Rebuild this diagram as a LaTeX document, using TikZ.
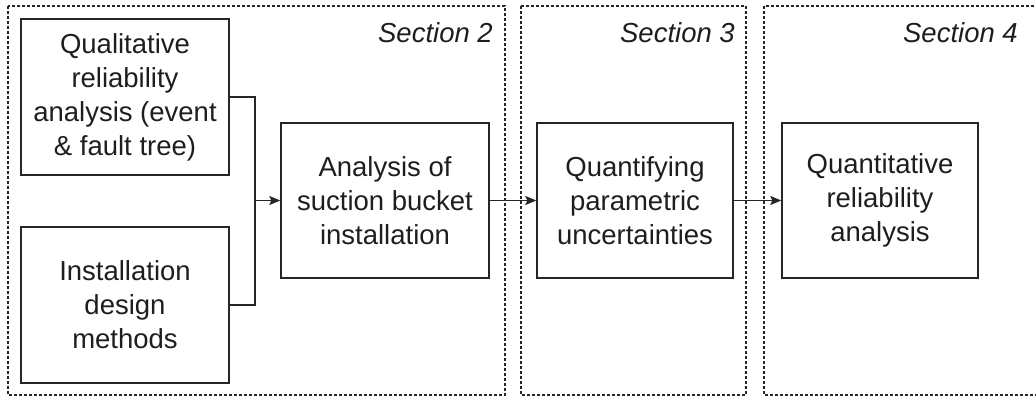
\documentclass[tikz,border=0pt]{standalone}
\usepackage{fontspec}
\setmainfont{Liberation Sans}
\usetikzlibrary{arrows.meta}
\definecolor{linec}{HTML}{262626}
\definecolor{textc}{HTML}{1E1E1E}
\tikzset{
  sectionbox/.style={draw=linec, line width=1.1pt, dash pattern=on 3pt off 2pt},
  stagebox/.style={draw=linec, line width=1.4pt, rectangle, align=center, inner sep=0pt,
    text=textc, font=\fontsize{27.5}{34}\selectfont},
  sectlabel/.style={text=textc, font=\fontsize{27.5}{34}\selectfont\itshape, inner sep=0pt, anchor=base east},
  conn/.style={draw=linec, line width=1.4pt},
  arr/.style={conn, -{Stealth[length=11pt,width=9pt,inset=2pt]}}
}
\begin{document}
\begin{tikzpicture}[x=1pt,y=-1pt]
\useasboundingbox (0,0) rectangle (1036,397);
% section frames
\draw[sectionbox] (8,6) rectangle (505,395);
\draw[sectionbox] (521,6) rectangle (746,395);
\draw[sectionbox] (764,6) rectangle (1050,395);
\node[sectlabel] (s2) at (493,42) {Section 2};
\node[sectlabel] (s3) at (735,42) {Section 3};
\node[sectlabel] (s4) at (1018,42) {Section 4};
% boxes
\node[stagebox, minimum width=208pt, minimum height=156pt] (b1) at (125,97) {Qualitative\\reliability\\analysis (event\\\& fault tree)};
\node[stagebox, minimum width=208pt, minimum height=156pt] (b2) at (125,305) {Installation\\design\\methods};
\node[stagebox, minimum width=208pt, minimum height=155pt] (b3) at (385,200.5) {Analysis of\\suction bucket\\installation};
\node[stagebox, minimum width=196pt, minimum height=155pt] (b4) at (635,200.5) {Quantifying\\parametric\\uncertainties};
\node[stagebox, minimum width=196pt, minimum height=155pt] (b5) at (880,200.5) {Quantitative\\reliability\\analysis};
% connectors
\coordinate (jn) at (255,200.5);
\draw[conn] (b1.east) -| (jn);
\draw[conn] (b2.east) -| (jn);
\draw[arr] (jn) -- (b3.west);
\draw[arr] (b3.east) -- (b4.west);
\draw[arr] (b4.east) -- (b5.west);
\end{tikzpicture}
\end{document}
